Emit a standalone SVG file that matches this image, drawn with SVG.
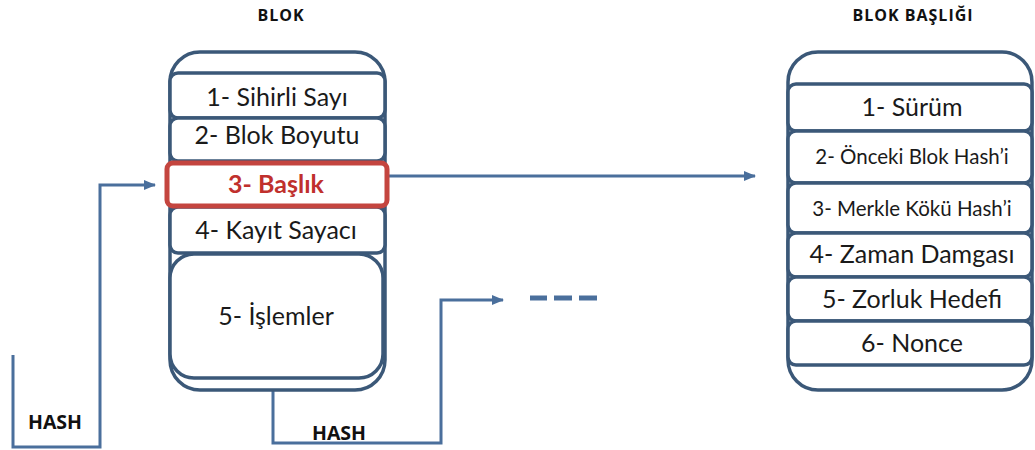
<svg xmlns="http://www.w3.org/2000/svg" width="1035" height="450" viewBox="0 0 1035 450">
  <style>
    .shell { fill: #ffffff; stroke: #3b5878; stroke-width: 3.5; }
    .row { fill: #ffffff; stroke: #3b5878; stroke-width: 3.5; }
    .hl { fill: #ffffff; stroke: #c4453f; stroke-width: 5; }
    .lbl { font-family: Lato, "Open Sans", "DejaVu Sans", sans-serif; fill: #1a1a1a; text-anchor: middle; }
    .big { font-size: 25px; }
    .small { font-size: 20.5px; }
    .red { fill: #c0302d; font-weight: bold; }
    .title { font-family: "Open Sans", "DejaVu Sans", sans-serif; font-weight: bold; font-size: 16px; letter-spacing: 1px; fill: #111; text-anchor: middle; }
    .hash { font-family: "Open Sans", "DejaVu Sans", sans-serif; font-weight: bold; font-size: 19.5px; fill: #111; text-anchor: middle; }
    .conn { fill: none; stroke: #4a6f9c; stroke-width: 3; }
    .dash { stroke: #4a6f9c; stroke-width: 5; }
  </style>
  <defs>
    <marker id="arrow" viewBox="0 0 12 10" refX="11" refY="5" markerWidth="12" markerHeight="10" markerUnits="userSpaceOnUse" orient="auto">
      <path d="M0,0 L12,5 L0,10 Z" fill="#4a6f9c"/>
    </marker>
  </defs>

  <!-- titles -->
  <text class="title" x="281" y="21">BLOK</text>
  <text class="title" x="913" y="21">BLOK BAŞLIĞI</text>

  <!-- connectors -->
  <g id="connectors">
    <path class="conn" d="M13,355 V447 H100 V185 H155" marker-end="url(#arrow)"/>
    <path class="conn" d="M387,176 H755" marker-end="url(#arrow)"/>
    <path class="conn" d="M273,388 V443 H441 V300 H503" marker-end="url(#arrow)"/>
    <line class="dash" x1="530" y1="298" x2="547" y2="298"/>
    <line class="dash" x1="554" y1="298" x2="572" y2="298"/>
    <line class="dash" x1="579" y1="298" x2="597" y2="298"/>
    <text class="hash" x="55" y="429">HASH</text>
    <text class="hash" x="339" y="440">HASH</text>
  </g>

  <!-- block -->
  <g id="block">
    <rect class="shell" x="170" y="52" width="215" height="338" rx="30"/>
    <g id="b-magic">
      <rect class="row" x="170" y="73" width="215" height="45" rx="8"/>
      <text class="lbl big" x="277" y="106">1- Sihirli Sayı</text>
    </g>
    <g id="b-size">
      <rect class="row" x="170" y="118" width="215" height="43" rx="8"/>
      <text class="lbl big" x="277" y="144">2- Blok Boyutu</text>
    </g>
    <g id="b-tx-count">
      <rect class="row" x="170" y="207" width="215" height="46" rx="8"/>
      <text class="lbl big" x="276" y="239">4- Kayıt Sayacı</text>
    </g>
    <g id="b-header">
      <rect class="hl" x="167" y="163" width="220" height="43" rx="6"/>
      <text class="lbl big red" x="276" y="193">3- Başlık</text>
    </g>
    <g id="b-transactions">
      <rect class="row" x="170" y="254" width="213" height="124" rx="24"/>
      <text class="lbl big" x="276" y="325">5- İşlemler</text>
    </g>
  </g>

  <!-- block header -->
  <g id="header">
    <rect class="shell" x="788" y="52" width="244" height="338" rx="30"/>
    <g id="h-version">
      <rect class="row" x="788" y="84" width="244" height="47" rx="8"/>
      <text class="lbl big" x="912" y="116">1- Sürüm</text>
    </g>
    <g id="h-prev">
      <rect class="row" x="788" y="131" width="244" height="52" rx="8"/>
      <text class="lbl small" x="912" y="164">2- Önceki Blok Hash’i</text>
    </g>
    <g id="h-merkle">
      <rect class="row" x="788" y="183" width="244" height="50" rx="8"/>
      <text class="lbl small" x="912" y="216">3- Merkle Kökü Hash’i</text>
    </g>
    <g id="h-time">
      <rect class="row" x="788" y="233" width="244" height="44" rx="8"/>
      <text class="lbl big" x="912" y="263">4- Zaman Damgası</text>
    </g>
    <g id="h-target">
      <rect class="row" x="788" y="277" width="244" height="44" rx="8"/>
      <text class="lbl big" x="912" y="308">5- Zorluk Hedefi</text>
    </g>
    <g id="h-nonce">
      <rect class="row" x="788" y="321" width="244" height="44" rx="8"/>
      <text class="lbl big" x="912" y="352">6- Nonce</text>
    </g>
  </g>
</svg>
